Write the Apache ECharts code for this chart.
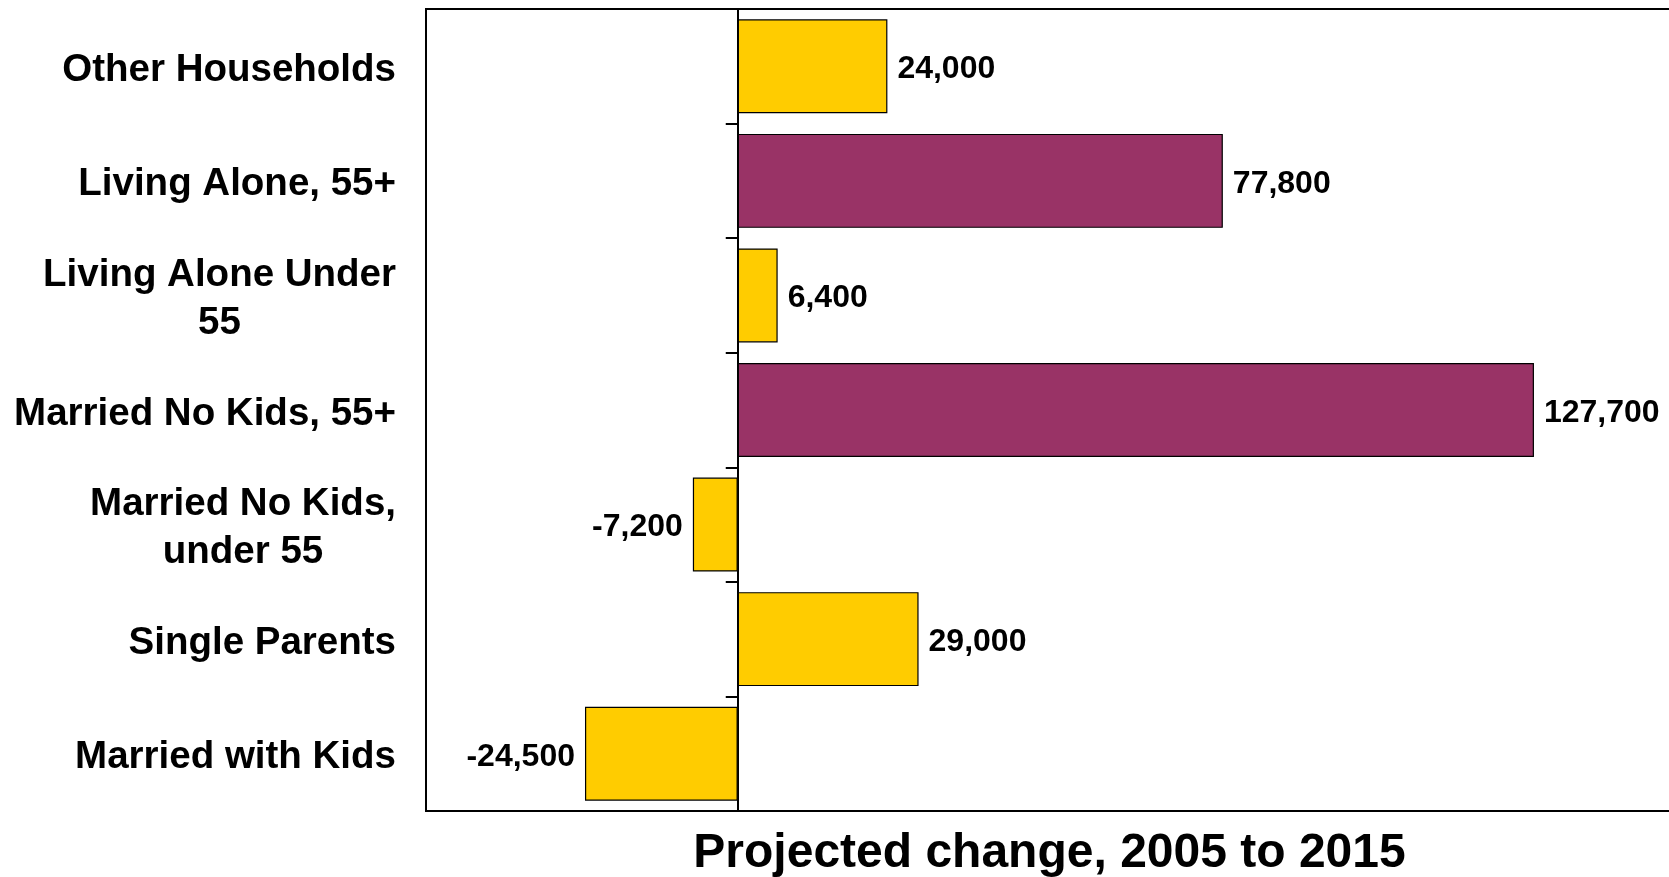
<!DOCTYPE html>
<html>
<head>
<meta charset="utf-8">
<title>Projected change in households, 2005 to 2015</title>
<script src="https://cdn.jsdelivr.net/npm/echarts@6/dist/echarts.min.js"></script>
<style>
  html, body { margin: 0; padding: 0; background: #ffffff; }
  #chart { width: 1669px; height: 877px; }
</style>
</head>
<body>
<div id="chart"></div>
<script>
// Household types, listed top to bottom
const categories = [
  'Other Households',
  'Living Alone, 55+',
  'Living Alone Under\n55',
  'Married No Kids, 55+',
  'Married No Kids,\nunder 55',
  'Single Parents',
  'Married with Kids'
];

// Projected change in number of households, 2005 to 2015
const changes = [24000, 77800, 6400, 127700, -7200, 29000, -24500];

// Older-household groups are highlighted in maroon
const highlighted = [false, true, false, true, false, false, false];

const axisTitle = 'Projected change, 2005 to 2015';

const YELLOW = '#FFCC00';
const MAROON = '#993366';
const FONT = '"Liberation Sans", Arial, Helvetica, sans-serif';

const fmt = v => (v < 0 ? '-' : '') + Math.abs(v).toLocaleString('en-US');

const barData = changes.map((v, i) => ({
  value: v,
  itemStyle: { color: highlighted[i] ? MAROON : YELLOW },
  label: { position: v < 0 ? 'left' : 'right' }
}));

const chart = echarts.init(document.getElementById('chart'), null, { renderer: 'canvas' });

chart.setOption({
  animation: false,
  backgroundColor: '#ffffff',
  grid: {
    left: 426,
    right: -4,
    top: 9,
    bottom: 66,
    show: true,
    borderColor: '#000000',
    borderWidth: 2,
    backgroundColor: 'transparent',
    containLabel: false,
    outerBoundsMode: 'none'
  },
  xAxis: {
    type: 'value',
    min: -50000,
    max: 150000,
    interval: 50000,
    axisLine: { show: false, onZero: false },
    axisTick: { show: false },
    axisLabel: { show: false },
    splitLine: { show: false },
    name: axisTitle,
    nameLocation: 'middle',
    nameGap: 17,
    nameTextStyle: {
      fontFamily: FONT,
      fontWeight: 'bold',
      fontSize: 48,
      color: '#000000',
      lineHeight: 52
    }
  },
  yAxis: [
    {
      // category names on the left of the frame
      type: 'category',
      data: categories,
      inverse: true,
      axisLine: { show: false, onZero: false },
      axisTick: { show: false },
      splitLine: { show: false },
      axisLabel: {
        margin: 30,
        align: 'right',
        padding: [8, 0, 0, 0],
        formatter: v => v.split('\n').map(s => '{c|' + s + '}').join('\n'),
        rich: {
          c: {
            align: 'center',
            fontFamily: FONT,
            fontWeight: 'bold',
            fontSize: 38.5,
            lineHeight: 48,
            color: '#000000'
          }
        }
      }
    },
    {
      // zero line with category separators
      type: 'category',
      data: categories,
      inverse: true,
      position: 'left',
      axisLine: { show: true, onZero: true, lineStyle: { color: '#000000', width: 2 } },
      axisTick: { show: true, inside: false, length: 12, lineStyle: { color: '#000000', width: 2 } },
      axisLabel: { show: false },
      splitLine: { show: false }
    }
  ],
  series: [
    {
      type: 'bar',
      yAxisIndex: 0,
      data: barData,
      barCategoryGap: '18%',
      itemStyle: { borderColor: '#000000', borderWidth: 1.2 },
      label: {
        show: true,
        distance: 10,
        offset: [0, 3],
        formatter: p => fmt(p.value),
        fontFamily: FONT,
        fontWeight: 'bold',
        fontSize: 32,
        color: '#000000'
      },
      z: 1
    }
  ]
});
</script>
</body>
</html>
